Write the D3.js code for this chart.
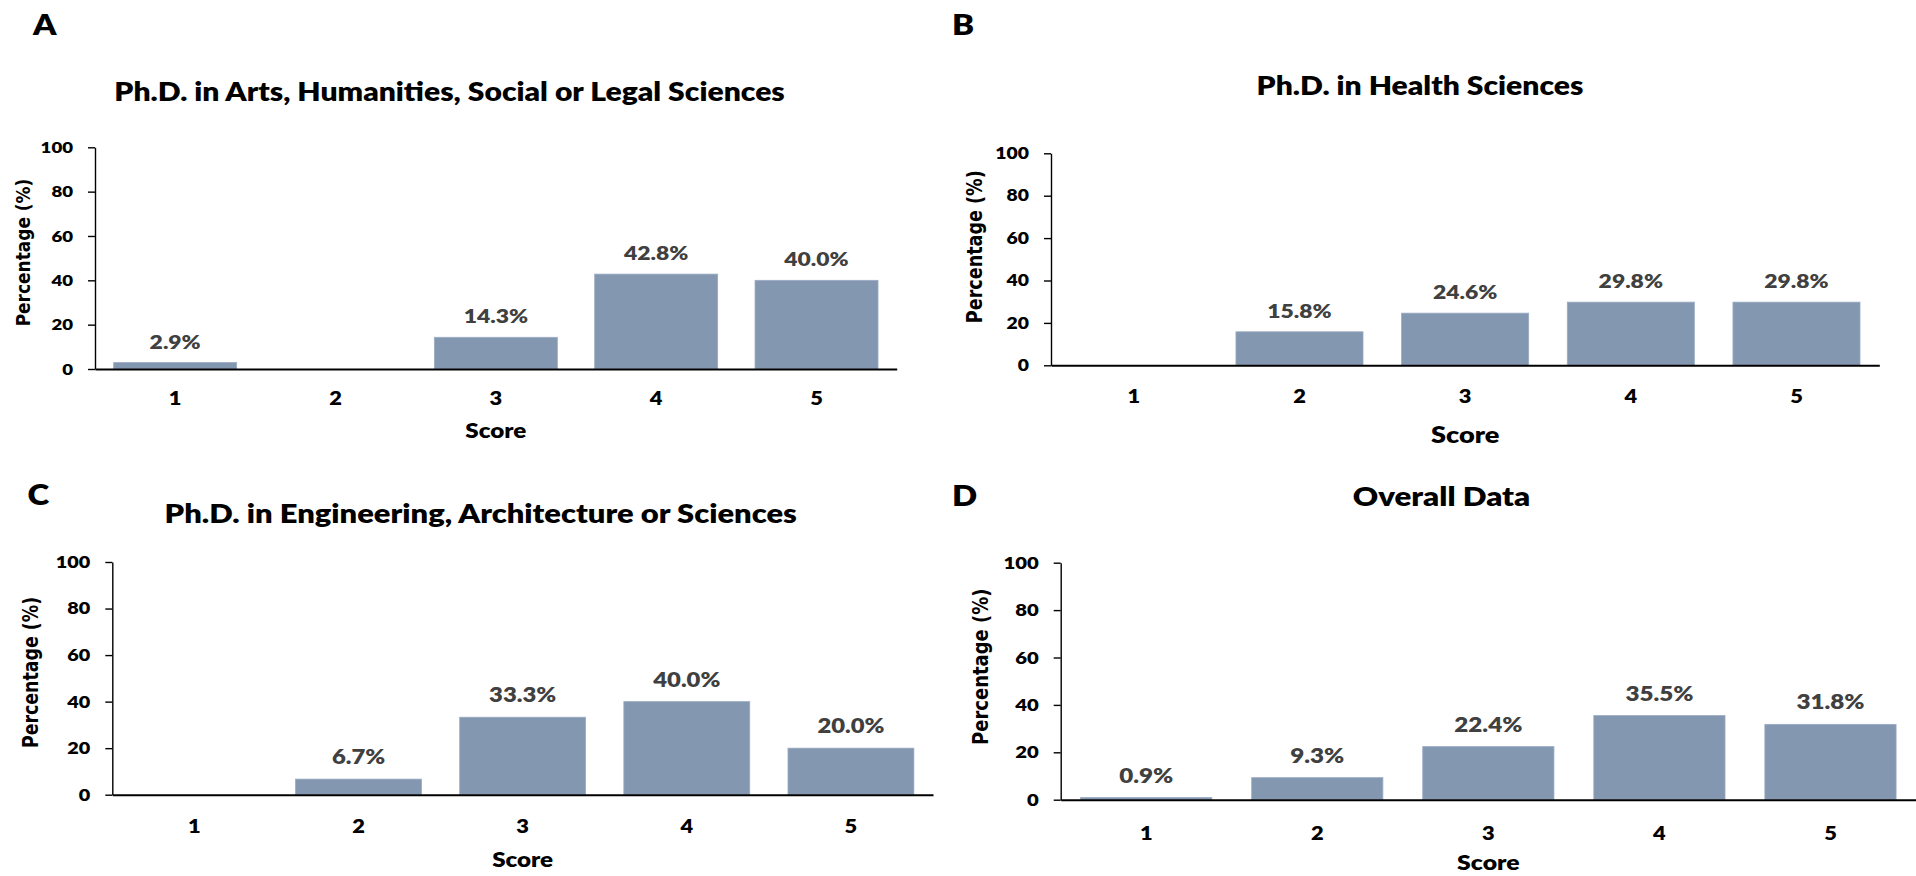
<!DOCTYPE html>
<html>
<head>
<meta charset="utf-8">
<script src="https://cdn.jsdelivr.net/npm/d3@7"></script>
<style>
  html, body { margin: 0; padding: 0; background: #ffffff; }
  svg { display: block; }
</style>
</head>
<body>
<svg id="chart" width="1916" height="876"></svg>
<script>
// ---------------- DATA ----------------
const scores = ["1", "2", "3", "4", "5"];
const yTicks = [0, 20, 40, 60, 80, 100];
const panelLetters = ["A", "B", "C", "D"];
const panelTitles = [
  "Ph.D. in Arts, Humanities, Social or Legal Sciences",
  "Ph.D. in Health Sciences",
  "Ph.D. in Engineering, Architecture or Sciences",
  "Overall Data"
];
const artsValues = [2.9, 0, 14.3, 42.8, 40.0];
const healthValues = [0, 15.8, 24.6, 29.8, 29.8];
const engineeringValues = [0, 6.7, 33.3, 40.0, 20.0];
const overallValues = [0.9, 9.3, 22.4, 35.5, 31.8];
const xAxisTitle = "Score";
const yAxisTitle = "Percentage (%)";

// ---------------- LAYOUT (positions / styles) ----------------
const S = 1.18; // horizontal text stretch seen in the reference
const BAR_COLOR = "#8497B0";
const BAR_EDGE = "#9AABC2";
const LABEL_COLOR = "#404040";
const TEXT_FONT = "Lato, 'Open Sans', sans-serif";
const TEXT_WEIGHT = 800;
const YTITLE_FONT = "'DejaVu Sans', Verdana, sans-serif";

const layouts = [
  { x0: 95,    x1: 896.7, yb: 369,   yt: 147.3, lx: 33,  ly: 35,  tx: 449.5, ty: 101, ts: 25.5,
    ytx: 30.2,  yty: 252.5, yts: 17,   tick: 15.8, cat: 18.5, val: 19.4, sy: 438, ss: 20.5, catOff: 36, valOff: 14 },
  { x0: 1051,  x1: 1879.3, yb: 365.3, yt: 153.3, lx: 952, ly: 35,  tx: 1420,  ty: 95,  ts: 25.5,
    ytx: 981.7, yty: 246.7, yts: 17.6, tick: 16.4, cat: 18.5, val: 19.4, sy: 443, ss: 23, catOff: 37.4, valOff: 14 },
  { x0: 112.3, x1: 933,   yb: 794.7, yt: 562,   lx: 27.5, ly: 505, tx: 480.7, ty: 523, ts: 26.2,
    ytx: 38.4,  yty: 672.5, yts: 17.4, tick: 16.8, cat: 18.5, val: 20.2, sy: 867, ss: 20.5, catOff: 38.7, valOff: 15 },
  { x0: 1060.7, x1: 1916, yb: 799.7, yt: 562.7, lx: 952, ly: 506, tx: 1441.5, ty: 506, ts: 26.5,
    ytx: 987.6, yty: 666.7, yts: 18,   tick: 17.2, cat: 18.5, val: 20.5, sy: 870, ss: 21, catOff: 40, valOff: 15 }
];

const seriesList = [artsValues, healthValues, engineeringValues, overallValues];

const svg = d3.select("#chart");

function stretchedText(g, x, y, str, opts) {
  return g.append("text")
    .attr("transform", `translate(${x},${y}) scale(${S},1)`)
    .attr("text-anchor", opts.anchor || "middle")
    .attr("font-family", opts.family || TEXT_FONT)
    .attr("font-weight", opts.weight || TEXT_WEIGHT)
    .attr("font-size", opts.size)
    .attr("fill", opts.fill || "#000")
    .text(str);
}

seriesList.forEach((values, i) => {
  const L = layouts[i];
  const g = svg.append("g");

  const x = d3.scaleBand().domain(scores).range([L.x0, L.x1])
    .paddingInner(0.233).paddingOuter(0.1165);
  const y = d3.scaleLinear().domain([0, 100]).range([L.yb, L.yt]);

  // bars
  g.selectAll("rect.bar").data(values).join("rect")
    .attr("class", "bar")
    .attr("x", (d, k) => x(scores[k]))
    .attr("width", x.bandwidth())
    .attr("y", d => y(d))
    .attr("height", d => y(0) - y(d))
    .attr("fill", BAR_COLOR)
    .attr("stroke", d => d > 0 ? BAR_EDGE : "none")
    .attr("stroke-width", 0.8);

  // value labels (zero values not labelled)
  values.forEach((v, k) => {
    if (v === 0) return;
    stretchedText(g, x(scores[k]) + x.bandwidth() / 2, y(v) - L.valOff, v.toFixed(1) + "%",
      { size: L.val, fill: LABEL_COLOR });
  });

  // y axis
  const yAxis = g.append("g").attr("transform", `translate(${L.x0},0)`)
    .call(d3.axisLeft(y).tickValues(yTicks).tickSize(7).tickSizeOuter(0));
  yAxis.select(".domain").attr("stroke", "#000").attr("stroke-width", 1.4);
  yAxis.selectAll(".tick line").attr("stroke", "#000").attr("stroke-width", 1.4);
  yAxis.selectAll(".tick text")
    .attr("x", -22 / S)
    .attr("transform", `scale(${S},1)`)
    .attr("font-family", TEXT_FONT).attr("font-weight", TEXT_WEIGHT)
    .attr("font-size", L.tick).attr("fill", "#000");

  // x axis
  const xAxis = g.append("g").attr("transform", `translate(0,${L.yb})`)
    .call(d3.axisBottom(x).tickSize(0).tickSizeOuter(0));
  xAxis.select(".domain").attr("stroke", "#000").attr("stroke-width", 2);
  xAxis.selectAll(".tick text")
    .attr("y", L.catOff).attr("dy", 0)
    .attr("transform", `scale(${S},1)`)
    .attr("font-family", TEXT_FONT).attr("font-weight", TEXT_WEIGHT)
    .attr("font-size", L.cat).attr("fill", "#000");

  // titles
  stretchedText(g, L.lx, L.ly, panelLetters[i], { anchor: "start", size: 28 });
  stretchedText(g, L.tx, L.ty, panelTitles[i], { size: L.ts });
  stretchedText(g, (L.x0 + L.x1) / 2, L.sy, xAxisTitle, { size: L.ss });

  // y axis title (rotated)
  g.append("text")
    .attr("transform", `translate(${L.ytx},${L.yty}) scale(${S},1) rotate(-90)`)
    .attr("text-anchor", "middle")
    .attr("font-family", YTITLE_FONT).attr("font-weight", 700)
    .attr("font-size", L.yts).attr("fill", "#000")
    .text(yAxisTitle);
});
</script>
</body>
</html>
